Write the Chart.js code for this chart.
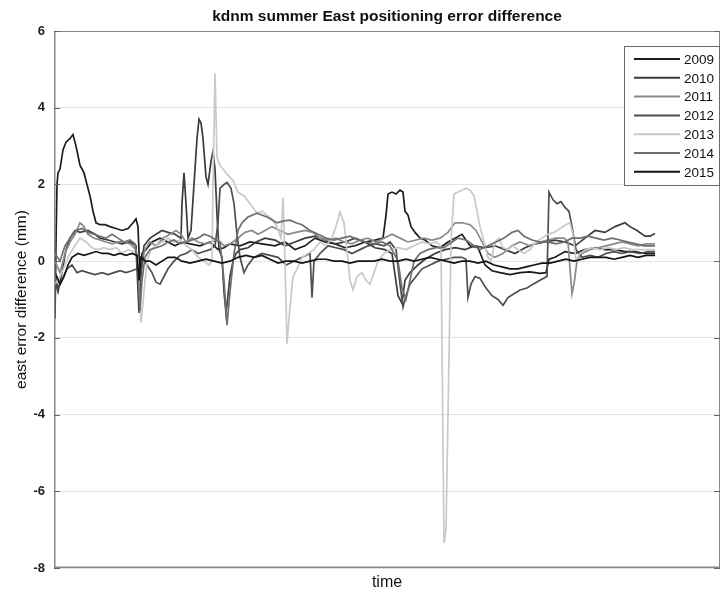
<!DOCTYPE html>
<html>
<head>
<meta charset="utf-8">
<script src="https://cdn.jsdelivr.net/npm/chart.js@4.4.1/dist/chart.umd.min.js"></script>
<style>
  html, body { margin: 0; padding: 0; background: #ffffff; }
  #wrap { width: 722px; height: 592px; position: relative; }
</style>
</head>
<body>
<div id="wrap"><canvas id="c" width="722" height="592"></canvas></div>
<script>
// ---- data (time index, east error difference in mm) ----
const years = ["2009", "2010", "2011", "2012", "2013", "2014", "2015"];
const yTicks = [-8, -6, -4, -2, 0, 2, 4, 6];

const t2009 = [0,1,2,3,5,8,11,15,18,21,25,29,32,35,38,41,45,50,55,61,67,73,78,81,83,85,87,91,97,105,113,120,127,135,145,155,163,169,175,185,195,207,220,230,240,250,260,270,280,290,300,310,320,328,331,333,337,341,345,348,350,353,356,360,365,370,377,385,393,400,407,415,423,430,437,445,455,465,475,485,491,494,500,510,520,530,540,550,560,570,580,590,600];
const e2009 = [-1.5,0.5,2.0,2.3,2.4,2.9,3.1,3.2,3.3,3.0,2.5,2.3,2.0,1.7,1.3,1.0,0.95,0.95,0.9,0.85,0.8,0.85,1.0,1.1,0.9,-0.4,0.2,0.3,0.5,0.6,0.5,0.4,0.5,0.45,0.4,0.5,0.3,0.35,0.45,0.4,0.5,0.45,0.4,0.5,0.3,0.4,0.6,0.5,0.45,0.35,0.4,0.5,0.55,0.6,1.2,1.75,1.8,1.75,1.85,1.8,1.3,1.2,0.9,0.75,0.6,0.55,0.4,0.35,0.5,0.6,0.7,0.4,0.35,-0.1,-0.25,-0.3,-0.35,-0.3,-0.28,-0.32,-0.3,0.05,0.1,0.25,0.2,0.3,0.35,0.3,0.3,0.25,0.25,0.2,0.2];

const t2010 = [0,3,7,11,15,20,25,33,40,45,53,60,67,75,81,84,86,89,95,101,107,113,120,126,127,129,131,133,136,139,142,144,146,148,151,153,156,158,160,162,164,167,169,171,173,175,178,181,185,193,201,210,220,230,240,250,260,270,280,290,300,310,320,330,337,343,347,350,355,363,370,380,390,400,410,420,430,440,450,460,470,480,490,500,510,520,530,540,550,560,570,575,582,590,595,600];
const e2010 = [-0.5,-0.8,-0.3,0.3,0.6,0.8,0.75,0.8,0.7,0.6,0.55,0.5,0.45,0.5,0.4,-1.35,-0.3,0.4,0.6,0.7,0.8,0.75,0.7,0.6,1.5,2.3,1.5,0.6,0.8,2.0,3.2,3.7,3.6,3.2,2.2,2.0,2.6,2.85,2.4,1.2,0.3,0.1,-0.8,-1.35,-0.9,-0.4,0.0,0.2,0.3,0.35,0.5,0.6,0.55,0.4,0.5,0.6,0.65,0.55,0.45,0.5,0.6,0.5,0.35,0.3,0.2,-0.9,-1.1,-0.5,-0.3,-0.1,0.05,0.2,0.3,0.35,0.3,0.4,0.35,0.4,0.3,0.2,0.35,0.45,0.5,0.55,0.5,0.4,0.6,0.8,0.75,0.9,1.0,0.9,0.8,0.65,0.65,0.72];

const t2011 = [0,5,10,15,20,25,29,33,39,45,51,57,63,69,75,81,84,86,90,95,101,108,115,121,126,131,137,143,150,157,163,169,175,183,190,197,203,210,217,225,233,241,250,258,265,273,281,289,297,305,313,321,329,337,345,353,361,369,377,385,393,400,407,415,421,427,433,440,448,457,465,475,485,493,501,509,513,515,517,519,522,527,535,543,551,559,567,575,583,591,600];
const e2011 = [0.0,-0.3,0.2,0.5,0.7,1.0,0.9,0.7,0.6,0.55,0.5,0.45,0.5,0.5,0.45,0.3,-0.4,-0.1,0.3,0.5,0.4,0.6,0.7,0.8,0.7,0.5,0.6,0.5,0.45,0.5,0.55,0.4,0.45,0.6,0.75,0.8,0.7,0.8,0.9,0.8,0.7,0.75,0.8,0.75,0.6,0.55,0.6,0.5,0.45,0.55,0.6,0.5,0.6,0.7,0.6,0.5,0.55,0.6,0.55,0.6,0.75,1.0,1.0,0.95,0.8,0.5,0.2,0.1,0.2,0.4,0.5,0.4,0.5,0.55,0.6,0.6,0.5,-0.2,-0.85,-0.6,0.0,0.2,0.3,0.35,0.4,0.45,0.5,0.45,0.4,0.45,0.45];

const t2012 = [0,3,7,12,17,22,27,33,40,47,53,59,65,71,77,82,85,88,92,97,101,105,109,113,119,125,131,137,143,149,155,160,163,165,169,172,176,179,182,185,189,193,199,207,215,223,231,239,247,255,257,259,265,273,281,289,297,305,313,321,329,335,341,345,348,351,355,361,367,375,383,391,399,407,411,413,416,420,425,431,437,443,448,453,459,465,472,478,485,492,494,498,502,506,510,514,517,521,527,535,543,551,559,567,575,585,593,600];
const e2012 = [-0.4,-0.7,-0.5,-0.2,-0.1,-0.3,-0.25,-0.3,-0.35,-0.3,-0.35,-0.3,-0.25,-0.3,-0.25,-0.2,-0.5,0.1,-0.1,-0.3,-0.55,-0.6,-0.4,-0.2,0.0,0.15,0.2,0.3,0.2,0.25,0.3,0.4,1.0,1.9,2.0,2.05,1.9,1.5,0.7,0.1,-0.3,-0.1,0.1,0.2,0.15,0.1,-0.1,0.0,0.1,0.2,-0.95,0.0,0.2,0.4,0.35,0.3,0.2,0.3,0.4,0.45,0.4,0.5,0.3,-0.6,-1.2,-0.9,-0.6,-0.4,-0.2,-0.1,0.0,0.05,0.1,0.1,0.05,-0.95,-0.6,-0.4,-0.45,-0.7,-0.9,-1.0,-1.15,-0.95,-0.85,-0.75,-0.7,-0.6,-0.5,-0.4,1.8,1.6,1.5,1.55,1.4,1.3,0.9,0.3,0.1,0.15,0.1,0.2,0.25,0.2,0.25,0.2,0.25,0.25];

const t2013 = [0,5,10,15,20,25,31,37,43,49,55,61,67,73,79,83,86,89,92,96,101,107,113,119,125,131,137,143,149,154,157,158,160,162,165,171,178,183,189,195,202,207,212,217,222,226,228,230,232,235,238,242,247,253,259,265,271,277,281,285,289,292,295,298,302,307,311,315,319,323,329,335,343,351,359,367,375,381,386,389,391,396,399,403,407,411,415,419,422,425,429,433,436,440,444,448,453,458,463,469,475,481,487,493,499,505,511,515,518,521,525,531,537,545,553,561,569,577,585,593,600];
const e2013 = [-0.6,-0.4,-0.1,0.2,0.4,0.6,0.5,0.35,0.3,0.35,0.3,0.35,0.2,0.3,0.25,0.0,-1.6,-0.8,0.0,0.3,0.4,0.5,0.6,0.5,0.55,0.4,0.3,0.1,0.0,-0.1,0.0,2.0,4.9,2.7,2.5,2.3,2.1,1.8,1.7,1.5,1.25,1.3,1.2,1.1,0.9,0.6,1.65,0.0,-2.15,-1.2,-0.4,-0.2,0.1,0.2,0.3,0.5,0.4,0.6,0.9,1.28,1.0,0.3,-0.5,-0.75,-0.4,-0.3,-0.5,-0.6,-0.3,0.0,0.2,0.3,0.35,0.3,0.4,0.5,0.45,0.5,0.4,-7.35,-7.0,0.5,1.75,1.8,1.85,1.9,1.85,1.7,1.3,0.9,0.5,0.1,0.0,0.5,0.6,0.35,0.3,0.4,0.3,0.2,0.3,0.5,0.6,0.7,0.75,0.85,0.95,1.0,0.7,0.0,0.2,0.3,0.35,0.3,0.35,0.3,0.35,0.3,0.3,0.3,0.3];

const t2014 = [0,5,10,15,21,27,33,39,45,51,57,63,69,75,80,83,85,87,90,95,101,107,113,119,125,131,137,143,149,155,161,165,169,172,175,179,183,187,193,202,212,222,229,235,241,247,255,263,271,279,287,295,303,311,319,327,335,343,347,351,355,359,365,373,381,389,397,403,411,419,425,433,441,449,457,463,469,477,485,493,501,509,517,525,533,541,549,557,565,573,581,589,600];
const e2014 = [0.2,0.0,0.4,0.6,0.8,0.85,0.75,0.7,0.65,0.6,0.7,0.6,0.5,0.55,0.45,-0.2,-1.3,-0.5,0.1,0.3,0.35,0.4,0.5,0.55,0.45,0.5,0.55,0.6,0.7,0.65,0.55,0.5,-0.5,-1.67,-0.8,0.2,0.8,1.0,1.15,1.25,1.15,1.0,1.05,1.07,1.0,0.95,0.8,0.7,0.6,0.55,0.6,0.65,0.55,0.5,0.45,0.5,0.4,0.0,-0.7,-1.0,-0.5,0.0,0.2,0.3,0.35,0.35,0.5,0.6,0.55,0.4,0.3,0.4,0.5,0.6,0.75,0.8,0.65,0.55,0.5,0.5,0.45,0.5,0.6,0.6,0.65,0.6,0.55,0.6,0.55,0.5,0.45,0.4,0.4];

const t2015 = [0,5,9,13,17,23,29,35,41,47,53,59,65,71,77,82,84,86,90,95,101,107,113,120,127,135,143,151,159,167,175,183,191,199,207,215,223,231,239,247,255,263,271,279,287,295,303,311,319,327,335,343,351,359,367,375,383,391,399,407,415,423,431,439,447,455,463,471,479,487,495,503,511,519,527,535,543,551,559,567,575,583,591,600];
const e2015 = [-0.3,-0.6,-0.4,-0.1,0.1,0.2,0.15,0.2,0.25,0.2,0.2,0.15,0.2,0.15,0.2,0.15,-0.5,0.1,0.0,0.0,-0.1,0.0,0.1,0.1,0.0,-0.05,0.0,0.05,0.0,-0.05,0.0,0.1,0.15,0.1,0.15,0.05,-0.05,0.0,0.0,-0.05,0.0,0.05,0.05,0.0,0.0,-0.05,0.0,0.0,0.0,0.05,0.0,0.0,0.05,0.0,0.05,0.1,0.05,0.0,-0.05,0.0,0.0,-0.05,0.0,-0.1,-0.15,-0.2,-0.2,-0.15,-0.1,-0.05,-0.05,0.0,0.05,0.0,0.05,0.1,0.1,0.1,0.05,0.1,0.15,0.1,0.15,0.15];

const seriesT = [t2009, t2010, t2011, t2012, t2013, t2014, t2015];
const seriesE = [e2009, e2010, e2011, e2012, e2013, e2014, e2015];
const colors = ["#1c1c1c", "#3c3c3c", "#8a8a8a", "#4e4e4e", "#c9c9c9", "#6e6e6e", "#141414"];

const FONT = '"Liberation Sans", Arial, sans-serif';

const datasets = years.map((y, i) => ({
  label: y,
  data: seriesT[i].map((t, k) => ({ x: t, y: seriesE[i][k] })),
  borderColor: colors[i],
  backgroundColor: colors[i],
  borderWidth: 1.7,
  pointRadius: 0,
  tension: 0,
  fill: false,
  order: 7 - i
}));

const frameAndLegend = {
  id: 'frameAndLegend',
  afterDraw(chart) {
    const ctx = chart.ctx;
    const a = chart.chartArea;
    const ys = chart.scales.y;
    ctx.save();
    // frame
    ctx.strokeStyle = '#888888';
    ctx.lineWidth = 1;
    ctx.strokeRect(a.left + 0.5, a.top + 0.5, a.right - a.left - 1, a.bottom - a.top - 1);
    ctx.lineWidth = 1.5;
    ctx.beginPath();
    ctx.moveTo(a.left + 0.75, a.top); ctx.lineTo(a.left + 0.75, a.bottom - 0.75); ctx.lineTo(a.right, a.bottom - 0.75);
    ctx.stroke();
    // inward ticks
    ctx.lineWidth = 1;
    ctx.strokeStyle = '#666';
    yTicks.forEach(v => {
      const py = Math.round(ys.getPixelForValue(v)) + 0.5;
      ctx.beginPath();
      ctx.moveTo(a.left, py); ctx.lineTo(a.left + 6, py);
      ctx.moveTo(a.right, py); ctx.lineTo(a.right - 6, py);
      ctx.stroke();
    });
    // title centred over plot area
    ctx.fillStyle = '#111';
    ctx.font = 'bold 15.5px ' + FONT;
    ctx.textAlign = 'center';
    ctx.textBaseline = 'middle';
    ctx.fillText('kdnm summer East positioning error difference', (a.left + a.right) / 2, 17);
    // legend box
    const bx = 624, by = 46, bw = 95, bh = 139;
    ctx.fillStyle = '#ffffff';
    ctx.fillRect(bx, by, bw, bh);
    ctx.strokeStyle = '#6a6a6a';
    ctx.strokeRect(bx + 0.5, by + 0.5, bw, bh);
    ctx.font = '13.5px ' + FONT;
    ctx.textAlign = 'left';
    chart.data.datasets.forEach((ds, i) => {
      const ry = by + 13 + i * 18.8;
      ctx.strokeStyle = ds.borderColor;
      ctx.lineWidth = 2;
      ctx.beginPath();
      ctx.moveTo(bx + 10, ry); ctx.lineTo(bx + 56, ry);
      ctx.stroke();
      ctx.fillStyle = '#111';
      ctx.fillText(ds.label, bx + 60, ry + 1);
    });
    ctx.restore();
  }
};

new Chart(document.getElementById('c'), {
  type: 'line',
  data: { datasets },
  plugins: [frameAndLegend],
  options: {
    responsive: false,
    animation: false,
    events: [],
    layout: { padding: { top: 31, right: 2, left: 0, bottom: 0 } },
    plugins: { legend: { display: false }, title: { display: false }, tooltip: { enabled: false } },
    scales: {
      x: {
        type: 'linear',
        min: -1, max: 665,
        grid: { display: false, drawTicks: false },
        border: { display: false },
        ticks: { display: false },
        title: { display: true, text: 'time', color: '#111', font: { family: FONT, size: 16 }, padding: { top: 0, bottom: 0 } },
        afterFit(s) { s.height = 24; }
      },
      y: {
        type: 'linear',
        min: -8, max: 6,
        afterBuildTicks(s) { s.ticks = yTicks.map(v => ({ value: v })); },
        grid: { color: '#e4e4e4', drawTicks: false },
        border: { display: false },
        ticks: { color: '#222', padding: 9, font: { family: FONT, size: 13, weight: 'bold' } },
        title: { display: true, text: 'east error difference (mm)', color: '#111', font: { family: FONT, size: 15.5 }, padding: { top: 12, bottom: 0 } },
        afterFit(s) { s.width = 54; }
      }
    }
  }
});
</script>
</body>
</html>
